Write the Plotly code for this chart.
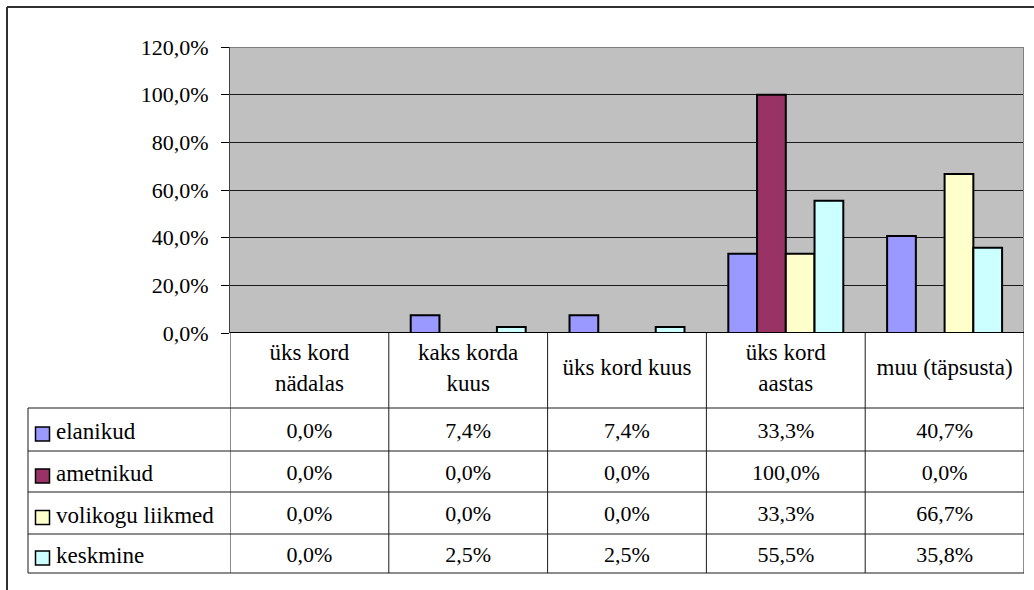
import plotly.graph_objects as go

# Survey answers: how often, per respondent group (percent)
categories = ["üks kord<br>nädalas", "kaks korda<br>kuus", "üks kord kuus",
              "üks kord<br>aastas", "muu (täpsusta)"]
series_names = ["elanikud", "ametnikud", "volikogu liikmed", "keskmine"]
elanikud = [0.0, 7.4, 7.4, 33.3, 40.7]
ametnikud = [0.0, 0.0, 0.0, 100.0, 0.0]
volikogu_liikmed = [0.0, 0.0, 0.0, 33.3, 66.7]
keskmine = [0.0, 2.5, 2.5, 55.5, 35.8]
y_ticks = [0, 20, 40, 60, 80, 100, 120]

series_values = [elanikud, ametnikud, volikogu_liikmed, keskmine]
colors = ["#9999FF", "#993366", "#FFFFCC", "#CCFFFF"]

W, H = 1034, 590
FONT = "Liberation Serif"
NUM_FONT = dict(family=FONT, size=22, color="black")
LBL_FONT = dict(family=FONT, size=23, color="black")


def pct(v):
    return f"{v:.1f}%".replace(".", ",")


def py(p):
    """pixel row -> paper y"""
    return 1 - p / H


def px(p):
    """pixel column -> paper x"""
    return p / W


plot_left, plot_right = 230, 1024
plot_top, plot_bottom = 47, 333
header_bottom = 408
row_lines = [408, 451, 492, 534, 573]
legend_left = 28
ncat = len(categories)

fig = go.Figure()
xs = list(range(ncat))
for name, vals, col in zip(series_names, series_values, colors):
    fig.add_trace(go.Bar(
        x=xs, y=vals, name=name,
        marker=dict(color=col, line=dict(color="black", width=2)),
        showlegend=False, hoverinfo="skip",
    ))

# ---- data table text, placed on a page-pixel overlay axis (y2) ----
header_mid = (plot_bottom + header_bottom) / 2 - 1
line_gap = 31
hx, hy, ht = [], [], []
for i, cat in enumerate(categories):
    parts = cat.split("<br>")
    n = len(parts)
    for j, part in enumerate(parts):
        hx.append(i)
        hy.append(header_mid + (j - (n - 1) / 2) * line_gap)
        ht.append(part)
fig.add_trace(go.Scatter(x=hx, y=hy, text=ht, mode="text", xaxis="x", yaxis="y2",
                         textposition="middle center", textfont=LBL_FONT,
                         cliponaxis=False, showlegend=False, hoverinfo="skip"))

vx, vy, vt = [], [], []
nx, ny = [], []
for r, (name, vals) in enumerate(zip(series_names, series_values)):
    mid = (row_lines[r] + row_lines[r + 1]) / 2
    nx.append(56)
    ny.append(mid + 4)
    for i, v in enumerate(vals):
        vx.append(i)
        vy.append(mid + 2.5)
        vt.append(pct(v))
fig.add_trace(go.Scatter(x=vx, y=vy, text=vt, mode="text", xaxis="x", yaxis="y2",
                         textposition="middle center", textfont=NUM_FONT,
                         cliponaxis=False, showlegend=False, hoverinfo="skip"))
fig.add_trace(go.Scatter(x=nx, y=ny, text=series_names, mode="text", xaxis="x2", yaxis="y2",
                         textposition="middle right", textfont=LBL_FONT,
                         cliponaxis=False, showlegend=False, hoverinfo="skip"))

hidden = dict(visible=False, showgrid=False, zeroline=False, fixedrange=True, automargin=False)

fig.update_layout(
    width=W, height=H,
    margin=dict(l=0, r=0, t=0, b=0, autoexpand=False),
    paper_bgcolor="white",
    plot_bgcolor="rgba(0,0,0,0)",
    barmode="group", bargap=0.276, bargroupgap=0,
    font=NUM_FONT,
    xaxis=dict(
        domain=[px(plot_left), px(plot_right)],
        range=[-0.5, ncat - 0.5],
        showticklabels=False, showgrid=False, zeroline=False,
        ticks="", showline=False, fixedrange=True, automargin=False,
    ),
    yaxis=dict(
        domain=[py(plot_bottom), py(plot_top)],
        range=[0, 120],
        tickmode="array", tickvals=y_ticks, ticktext=[pct(v) for v in y_ticks],
        ticks="outside", ticklen=8, tickcolor="black", tickwidth=1,
        ticklabelstandoff=8,
        showline=True, linecolor="#404040", linewidth=1,
        showgrid=True, gridcolor="#1a1a1a", gridwidth=1,
        zeroline=False, fixedrange=True, automargin=False,
        tickfont=NUM_FONT,
    ),
    xaxis2=dict(domain=[0, 1], range=[0, W], anchor="y2", **hidden),
    yaxis2=dict(domain=[0, 1], range=[H, 0], anchor="x2", **hidden),
)

shapes = []
line_col = "#1a1a1a"

# plot area background, frame (top and right edges) and zero axis line
shapes.append(dict(type="rect", xref="x", yref="y", x0=-0.5, x1=ncat - 0.5, y0=0, y1=120,
                   fillcolor="#C0C0C0", line=dict(width=0), layer="below"))
shapes.append(dict(type="line", xref="x", yref="y", x0=-0.5, x1=ncat - 0.5,
                   y0=120, y1=120, line=dict(color="#808080", width=2)))
shapes.append(dict(type="line", xref="x", yref="y", x0=ncat - 0.5, x1=ncat - 0.5,
                   y0=0, y1=120, line=dict(color="#808080", width=2)))
shapes.append(dict(type="line", xref="x", yref="y", x0=-0.5, x1=ncat - 0.5,
                   y0=0, y1=0, line=dict(color="black", width=2)))

# data table: column separators follow the category axis
for k in range(ncat + 1):
    shapes.append(dict(type="line", xref="x", yref="paper", x0=k - 0.5, x1=k - 0.5,
                       y0=py(plot_bottom), y1=py(row_lines[-1]),
                       line=dict(color=line_col, width=1)))
# row separators
for r in row_lines:
    shapes.append(dict(type="line", xref="paper", yref="paper",
                       x0=px(legend_left), x1=px(plot_right), y0=py(r), y1=py(r),
                       line=dict(color=line_col, width=1)))
shapes.append(dict(type="line", xref="paper", yref="paper",
                   x0=px(legend_left), x1=px(legend_left), y0=py(row_lines[0]), y1=py(row_lines[-1]),
                   line=dict(color=line_col, width=1)))

# legend keys in the table's first column
for r, col in enumerate(colors):
    mid = (row_lines[r] + row_lines[r + 1]) / 2
    shapes.append(dict(type="rect", xref="paper", yref="paper",
                       x0=px(35.5), x1=px(49.5), y0=py(mid + 11.5), y1=py(mid - 2.5),
                       fillcolor=col, line=dict(color="black", width=1.5)))

# outer chart border
shapes.append(dict(type="line", xref="paper", yref="paper", x0=px(7), x1=1, y0=py(7), y1=py(7),
                   line=dict(color="#303030", width=2)))
shapes.append(dict(type="line", xref="paper", yref="paper", x0=px(7), x1=px(7), y0=py(7), y1=0,
                   line=dict(color="#303030", width=2)))

fig.update_layout(shapes=shapes)
fig.write_html("out.html")
